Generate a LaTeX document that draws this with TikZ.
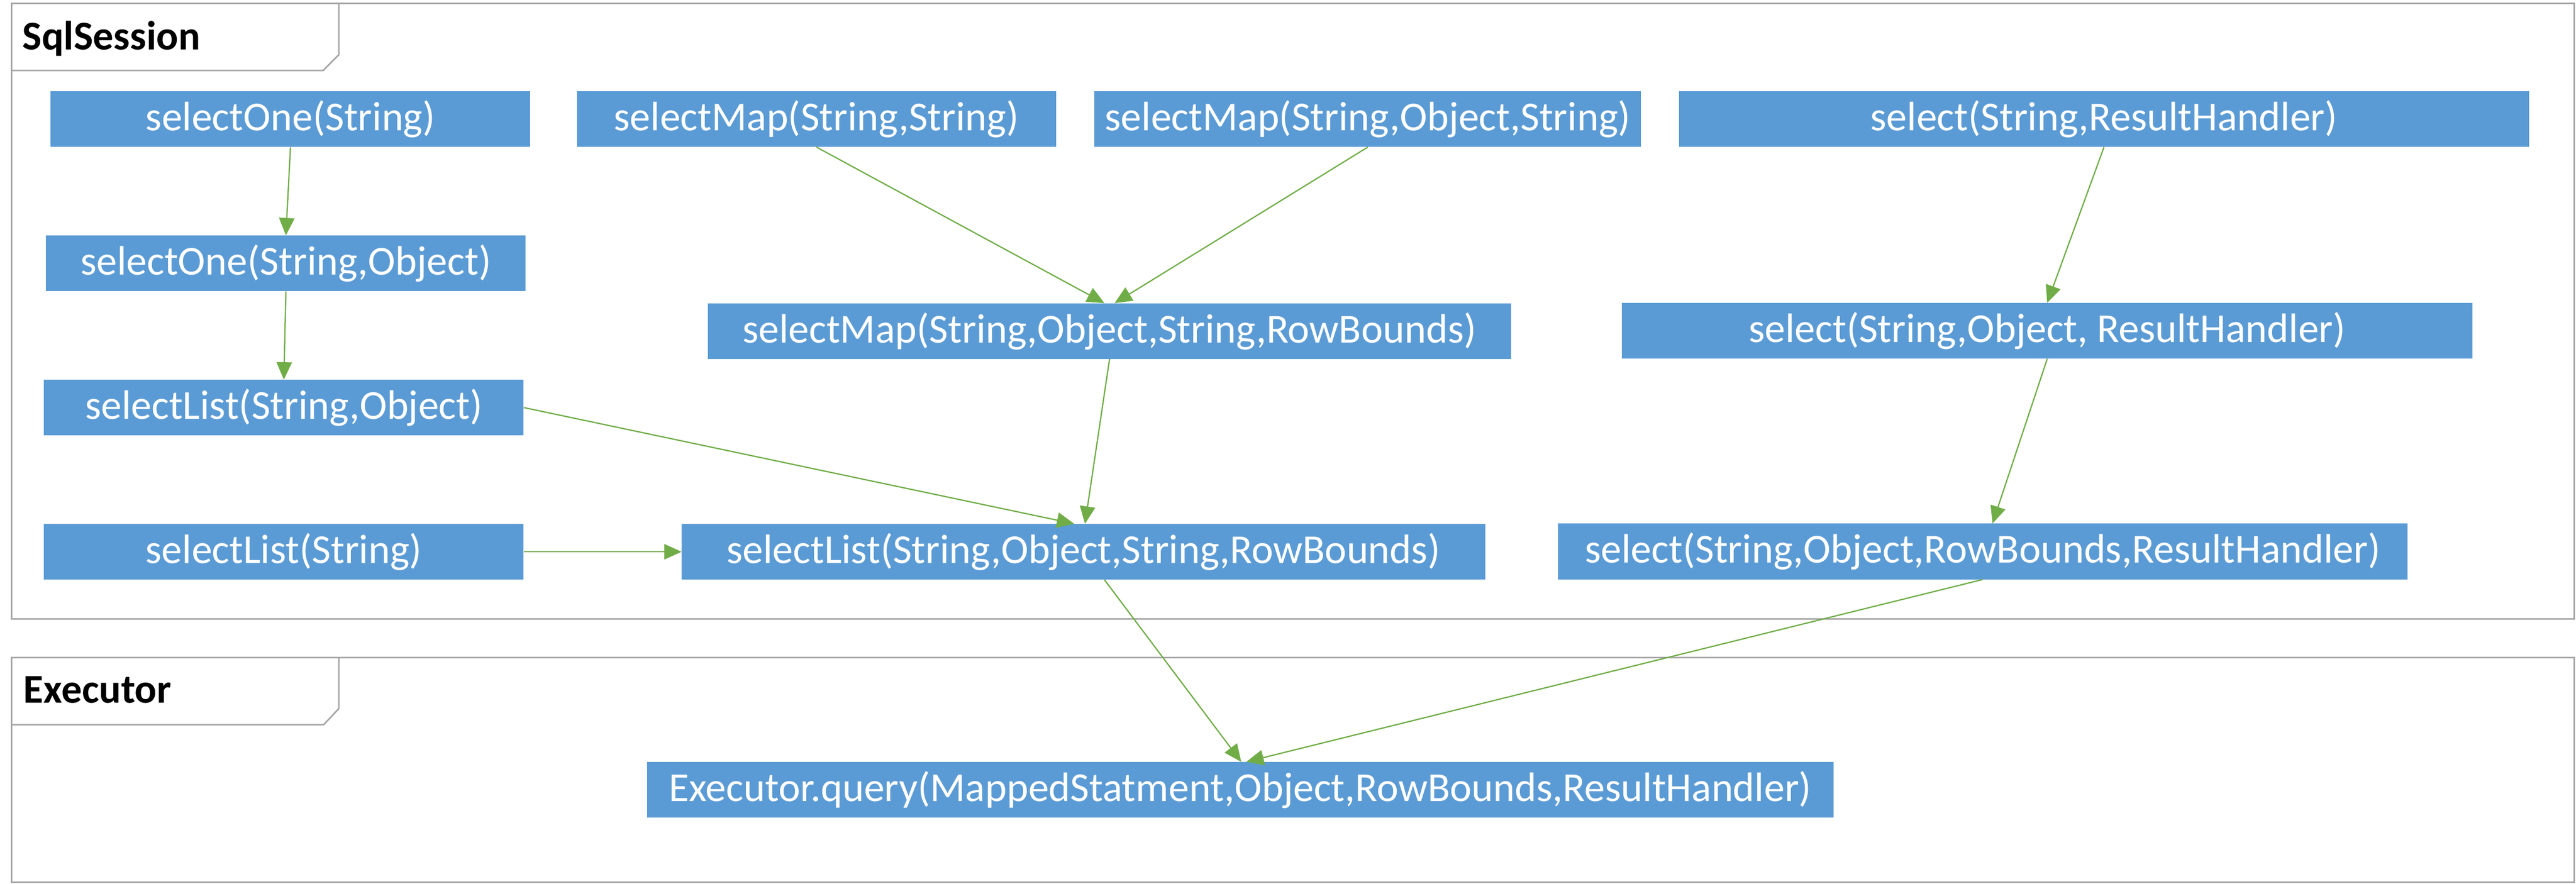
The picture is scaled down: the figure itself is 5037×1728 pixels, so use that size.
\documentclass[tikz,border=0pt]{standalone}
\usepackage{fontspec}
\setmainfont{Carlito}
\usetikzlibrary{arrows.meta}
\definecolor{boxblue}{HTML}{5B9BD5}
\definecolor{arrgreen}{HTML}{70AD47}
\definecolor{framegray}{HTML}{A5A5A5}
\begin{document}
\begin{tikzpicture}[x=1pt,y=-1pt,
  fn/.style={fill=boxblue, draw=none, text=white, minimum height=109pt, inner sep=0pt, font=\fontsize{80.5}{94}\selectfont},
  conn/.style={draw=arrgreen, line width=2.5pt, -{Triangle[length=34pt,width=30pt]}},
  frameline/.style={draw=framegray, line width=3pt},
  titletext/.style={font=\fontsize{80}{96}\selectfont\bfseries, anchor=base west, inner sep=0pt}]
\useasboundingbox (0,0) rectangle (5037,1728);
\fill[white] (0,0) rectangle (5037,1728);
% frames
\draw[frameline] (23,6.5) rectangle (5033,1210);
\draw[frameline] (23,137.8) -- (632,137.8) -- (662.6,107) -- (662.6,6.5);
\node[titletext] (sqlt) at (43.6,97.6) {SqlSession};
\draw[frameline] (23,1285.5) rectangle (5033,1725.6);
\draw[frameline] (23,1417.3) -- (632.7,1417.3) -- (662.6,1385.7) -- (662.6,1285.5);
\node[titletext] (exet) at (46,1375) {Executor};
% boxes
\node[fn, minimum width=938pt] (so1) at (568,233) {selectOne(String)};
\node[fn, minimum width=937pt] (sm1) at (1596.5,233) {selectMap(String,String)};
\node[fn, minimum width=1069pt] (sm2) at (2674.5,233) {selectMap(String,Object,String)};
\node[fn, minimum width=1662pt] (s1) at (4114,233) {select(String,ResultHandler)};
\node[fn, minimum width=938pt] (so2) at (559,515) {selectOne(String,Object)};
\node[fn, minimum width=1571pt] (sm3) at (2169.5,647.5) {selectMap(String,Object,String,RowBounds)};
\node[fn, minimum width=1663pt] (s2) at (4003,647) {select(String,Object, ResultHandler)};
\node[fn, minimum width=938pt] (sl1) at (555,797) {selectList(String,Object)};
\node[fn, minimum width=938pt] (sl2) at (555,1079) {selectList(String)};
\node[fn, minimum width=1571pt] (sl3) at (2118.5,1079) {selectList(String,Object,String,RowBounds)};
\node[fn, minimum width=1662pt] (s3) at (3877,1078.5) {select(String,Object,RowBounds,ResultHandler)};
\node[fn, minimum width=2320pt] (ex) at (2425,1544.5) {Executor.query(MappedStatment,Object,RowBounds,ResultHandler)};
% connectors
\draw[conn] (so1.south) -- (so2.north);
\draw[conn] (so2.south) -- (sl1.north);
\draw[conn] (sm1.south) -- ([xshift=-10pt]sm3.north);
\draw[conn] (sm2.south) -- ([xshift=10pt]sm3.north);
\draw[conn] (sm3.south) -- ([xshift=3pt]sl3.north);
\draw[conn] (sl1.east) -- ([xshift=-18pt]sl3.north);
\draw[conn] (sl2.east) -- (sl3.west);
\draw[conn] (s1.south) -- (s2.north);
\draw[conn] (s2.south) -- ([xshift=19pt]s3.north);
\draw[conn] ([xshift=41pt]sl3.south) -- ([xshift=2pt]ex.north);
\draw[conn] (s3.south) -- ([xshift=12pt]ex.north);
\end{tikzpicture}
\end{document}
